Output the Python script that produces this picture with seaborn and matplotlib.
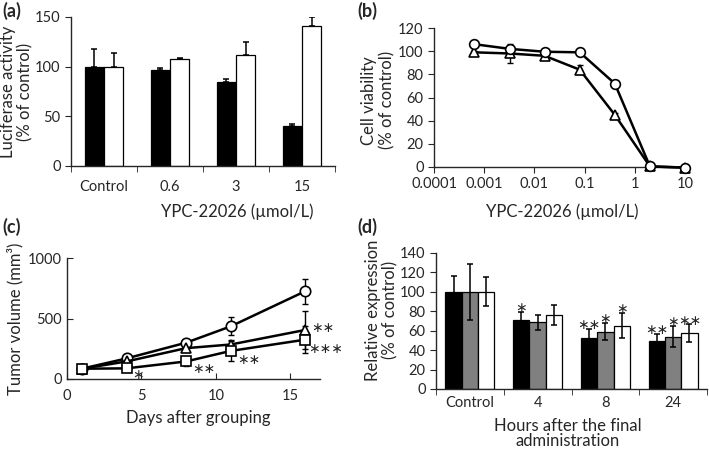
import numpy as np
import pandas as pd
import matplotlib
matplotlib.use('Agg')
import matplotlib.pyplot as plt
import seaborn as sns

sns.set_style('ticks')
plt.rcParams['font.family'] = ['Lato', 'DejaVu Sans']
plt.rcParams['axes.linewidth'] = 1.0

# (a) luciferase activity
a_groups = ['Control', '0.6', '3', '15']
a_black = [100, 97, 85, 40]
a_black_err = [18, 2, 3, 2]
a_white = [100, 108, 112, 141]
a_white_err = [14, 1, 13, 9]

# (b) cell viability
b_conc = [0.00064, 0.0032, 0.016, 0.08, 0.4, 2, 10]
b_circle = [106, 102, 99.5, 99, 72, 0.5, -0.5]
b_circle_err = [2, 2, 1, 2, 2, 1, 1]
b_triangle = [99, 98, 96, 84, 45, 0.5, -0.5]
b_triangle_err = [1, 8, 1, 4, 2, 1, 1]

# (c) tumor volume
c_days = [1, 4, 8, 11, 16]
c_circle = [85, 170, 300, 435, 725]
c_circle_err = [0, 15, 20, 75, 105]
c_triangle = [85, 145, 255, 285, 405]
c_triangle_err = [0, 15, 25, 40, 160]
c_square = [85, 88, 145, 232, 325]
c_square_err = [0, 10, 35, 85, 110]
c_star_x = [4.75, 9.2, 12.2, 17.4, 17.2]
c_star_y = [30, 85, 155, 250, 425]
c_star_txt = ['∗', '∗∗', '∗∗', '∗∗∗', '∗∗']

# (d) relative expression
d_groups = ['Control', '4', '8', '24']
d_black = [100, 71, 52.5, 49.5]
d_black_err = [16, 8, 9.5, 7.5]
d_grey = [100, 68.5, 59, 54]
d_grey_err = [29, 7.5, 9, 11]
d_white = [100, 76, 65, 57.5]
d_white_err = [15, 10, 13, 9]
d_black_star = ['', '∗', '∗∗', '∗∗']
d_grey_star = ['', '', '∗', '∗']
d_white_star = ['', '', '∗', '∗∗']

fig = plt.figure(figsize=(7.09, 4.5), dpi=100)
W, H = 709, 450


def add_axes(l, r, t, b):
    return fig.add_axes([l / W, 1 - b / H, (r - l) / W, (b - t) / H])


tick_fs = 10.5
lab_fs = 12


def grouped_bars(ax, groups, series, colors, width):
    n = len(series)
    rows = []
    for j, vals in enumerate(series):
        for g, v in zip(groups, vals):
            rows.append({'group': g, 'series': j, 'value': v})
    df = pd.DataFrame(rows)
    sns.barplot(data=df, x='group', y='value', hue='series', palette=colors,
                width=width, gap=0, edgecolor='black', linewidth=0.9,
                legend=False, errorbar=None, ax=ax, zorder=2)
    centers = []
    for j in range(n):
        xs = np.arange(len(groups)) + (j - (n - 1) / 2) * width / n
        centers.append(xs)
    return centers


def labels(ax, xl, xpos, yl, ypos, xls=1.0):
    ax.set_xlabel(xl, fontsize=lab_fs, va='center', linespacing=xls)
    ax.xaxis.set_label_coords(*xpos)
    ax.set_ylabel(yl, fontsize=lab_fs, va='center', linespacing=1.15)
    ax.yaxis.set_label_coords(*ypos)


# ---- (a)
ax = add_axes(71, 335, 17, 166)
cent = grouped_bars(ax, a_groups, [a_black, a_white], ['black', 'white'], 0.58)
for xs, v, e in [(cent[0], a_black, a_black_err), (cent[1], a_white, a_white_err)]:
    ax.errorbar(xs, v, yerr=[np.zeros(len(e)), e], fmt='none', ecolor='black',
                elinewidth=1.1, capsize=2.5, capthick=1.1, zorder=1)
ax.set_xlim(-0.5, 3.5)
ax.set_ylim(0, 150)
ax.set_yticks([0, 50, 100, 150])
ax.set_xticks(range(4))
ax.set_xticklabels(a_groups)
ax.tick_params(axis='x', length=0, labelsize=tick_fs, pad=10)
ax.set_xticks(np.arange(-0.5, 4, 1), minor=True)
ax.tick_params(axis='x', which='minor', length=4, direction='out')
ax.tick_params(axis='y', labelsize=tick_fs, length=4)
labels(ax, 'YPC-22026 (µmol/L)', (0.629, -0.31),
       'Luciferase activity\n(% of control)', (-0.205, 0.5))
sns.despine(ax=ax)

# ---- (b)
ax = add_axes(434, 685, 28, 167)
for vals, errs, mk in [(b_triangle, b_triangle_err, '^'), (b_circle, b_circle_err, 'o')]:
    ax.errorbar(b_conc, vals, yerr=errs, fmt='none', ecolor='black', elinewidth=1,
                capsize=2, zorder=2, clip_on=False)
    sns.lineplot(x=b_conc, y=vals, ax=ax, color='black', linewidth=1.8, marker=mk,
                 markersize=7, markerfacecolor='white', markeredgecolor='black',
                 markeredgewidth=1.2, zorder=3, clip_on=False)
ax.set_xscale('log')
ax.set_xlim(1e-4, 10)
ax.set_ylim(0, 120)
ax.set_yticks(range(0, 121, 20))
ax.set_xticks([1e-4, 1e-3, 1e-2, 1e-1, 1, 10])
ax.set_xticklabels(['0.0001', '0.001', '0.01', '0.1', '1', '10'])
ax.xaxis.set_minor_locator(matplotlib.ticker.NullLocator())
ax.tick_params(axis='both', labelsize=tick_fs, length=4)
labels(ax, 'YPC-22026 (µmol/L)', (0.51, -0.32),
       'Cell viability\n(% of control)', (-0.223, 0.48))
sns.despine(ax=ax)

# ---- (c)
ax = add_axes(67, 320, 258, 379)
for vals, errs, mk in [(c_circle, c_circle_err, 'o'), (c_triangle, c_triangle_err, '^'),
                       (c_square, c_square_err, 's')]:
    ax.errorbar(c_days, vals, yerr=errs, fmt='none', ecolor='black', elinewidth=1,
                capsize=2, zorder=2)
    sns.lineplot(x=c_days, y=vals, ax=ax, color='black', linewidth=1.8, marker=mk,
                 markersize=7.5, markerfacecolor='white', markeredgecolor='black',
                 markeredgewidth=1.2, zorder=3, clip_on=False)
for x, y, t in zip(c_star_x, c_star_y, c_star_txt):
    ax.text(x, y, t, fontsize=10, ha='center', va='center', family='DejaVu Sans')
ax.set_xlim(0, 17)
ax.set_ylim(0, 1000)
ax.set_xticks([0, 5, 10, 15])
ax.set_yticks([0, 500, 1000])
ax.tick_params(axis='both', labelsize=tick_fs, length=4, direction='in')
ax.tick_params(axis='x', pad=7)
labels(ax, 'Days after grouping', (0.518, -0.32),
       'Tumor volume (mm³)', (-0.205, 0.5))
sns.despine(ax=ax)

# ---- (d)
ax = add_axes(436, 707, 253, 389)
cent = grouped_bars(ax, d_groups, [d_black, d_grey, d_white],
                    ['black', '#808080', 'white'], 0.72)
for xs, v, e, st in [(cent[0], d_black, d_black_err, d_black_star),
                     (cent[1], d_grey, d_grey_err, d_grey_star),
                     (cent[2], d_white, d_white_err, d_white_star)]:
    ax.errorbar(xs, v, yerr=e, fmt='none', ecolor='black', elinewidth=1.1,
                capsize=2.5, capthick=1.1, zorder=3)
    for x, y, er, s in zip(xs, v, e, st):
        if s:
            ax.text(x, y + er + 4, s, fontsize=10, ha='center', va='center',
                    family='DejaVu Sans')
ax.set_xlim(-0.5, 3.5)
ax.set_ylim(0, 140)
ax.set_yticks(range(0, 141, 20))
ax.set_xticks(range(4))
ax.set_xticklabels(d_groups)
ax.tick_params(axis='x', length=0, labelsize=tick_fs, pad=5)
ax.set_xticks(np.arange(-0.5, 4, 1), minor=True)
ax.tick_params(axis='x', which='minor', length=4, direction='out')
ax.tick_params(axis='y', labelsize=tick_fs, length=4)
labels(ax, 'Hours after the final\nadministration', (0.487, -0.325),
       'Relative expression\n(% of control)', (-0.2, 0.58), xls=0.95)
sns.despine(ax=ax)

# panel letters
for x, y, t in [(2, 2, '(a)'), (357, 2, '(b)'), (2, 218, '(c)'), (357, 218, '(d)')]:
    fig.text(x / W, 1 - y / H, t, fontsize=13, fontweight='bold', va='top', ha='left')

fig.savefig('out.png', dpi=100)
